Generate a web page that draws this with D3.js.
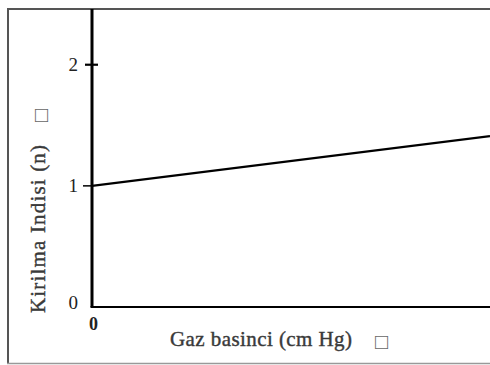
<!DOCTYPE html>
<html>
<head>
<meta charset="utf-8">
<script src="https://cdn.jsdelivr.net/npm/d3@7"></script>
<style>
  html, body { margin: 0; padding: 0; background: #fff; }
  svg { display: block; }
  text { font-family: "Liberation Serif", "DejaVu Serif", serif; }
</style>
</head>
<body>
<svg id="chart" width="490" height="365"></svg>
<script>
// Refractive index of a gas versus gas pressure (linear relation)
const pressure = [0, 100];
const refIndex = [1.0, 1.41];
const yTicks = [0, 1, 2];
const xTicks = [0];
const xTitle = "Gaz basinci (cm Hg)";
const yTitle = "Kirilma Indisi (n)";
const boxGlyph = "\u25A1";

const svg = d3.select("#chart");
const W = 490;

const x = d3.scaleLinear().domain([0, 100]).range([92, W]);
const y = d3.scaleLinear().domain([0, 2.46]).range([307, 9]);

// outer frame (top, left, bottom)
svg.append("line").attr("x1", 7).attr("x2", W).attr("y1", 9).attr("y2", 9)
  .attr("stroke", "#555").attr("stroke-width", 2);
svg.append("line").attr("x1", 8).attr("x2", 8).attr("y1", 8).attr("y2", 364)
  .attr("stroke", "#555").attr("stroke-width", 2);
svg.append("line").attr("x1", 7).attr("x2", W).attr("y1", 363.5).attr("y2", 363.5)
  .attr("stroke", "#999").attr("stroke-width", 1.5);

// y axis
const yAxis = svg.append("g").attr("transform", `translate(${x(0)},0)`)
  .call(d3.axisLeft(y).tickValues(yTicks).tickSize(0).tickPadding(14).tickFormat(d3.format("d")));
yAxis.select(".domain").remove();
yAxis.selectAll("text").attr("font-size", 19).attr("fill", "#222")
  .attr("font-family", "Liberation Serif, serif")
  .attr("dy", d => d === 0 ? "0.1em" : "0.32em");
yAxis.append("line").attr("x1", 0).attr("x2", 0).attr("y1", y(0)).attr("y2", 9)
  .attr("stroke", "#000").attr("stroke-width", 3);
// tick marks: 2 crosses the axis, 1 on the left only
yAxis.append("line").attr("x1", -7).attr("x2", 6).attr("y1", y(2)).attr("y2", y(2))
  .attr("stroke", "#000").attr("stroke-width", 2.2);
yAxis.append("line").attr("x1", -9).attr("x2", 0).attr("y1", y(1)).attr("y2", y(1))
  .attr("stroke", "#000").attr("stroke-width", 1.5);

// x axis
const xAxis = svg.append("g").attr("transform", `translate(0,${y(0)})`)
  .call(d3.axisBottom(x).tickValues(xTicks).tickSize(0).tickPadding(10).tickFormat(d3.format("d")));
xAxis.select(".domain").remove();
xAxis.selectAll("text").attr("font-size", 18).attr("fill", "#222").attr("dx", 1)
  .attr("font-weight", "bold");
xAxis.append("line").attr("x1", x(0) - 1.5).attr("x2", W).attr("y1", 0).attr("y2", 0)
  .attr("stroke", "#000").attr("stroke-width", 2.2);

// data line
const line = d3.line().x((d, i) => x(pressure[i])).y(d => y(d));
svg.append("path").datum(refIndex).attr("d", line)
  .attr("fill", "none").attr("stroke", "#000").attr("stroke-width", 2.2);

// axis titles
const titleStyle = sel => sel.attr("font-size", 21).attr("fill", "#3a3a3a")
  .attr("stroke", "#3a3a3a").attr("stroke-width", 0.4);

svg.append("text").attr("x", 170).attr("y", 346)
  .attr("textLength", 182).attr("lengthAdjust", "spacing")
  .call(titleStyle).text(xTitle);
svg.append("text").attr("x", 375).attr("y", 349)
  .attr("font-family", "DejaVu Sans, sans-serif").attr("font-size", 22)
  .attr("fill", "#666").text(boxGlyph);

svg.append("text").attr("transform", "translate(45,313) rotate(-90)")
  .attr("textLength", 168).attr("lengthAdjust", "spacing")
  .call(titleStyle).text(yTitle);
svg.append("text").attr("transform", "translate(48,122) rotate(-90)")
  .attr("font-family", "DejaVu Sans, sans-serif").attr("font-size", 22)
  .attr("fill", "#666").text(boxGlyph);
</script>
</body>
</html>
